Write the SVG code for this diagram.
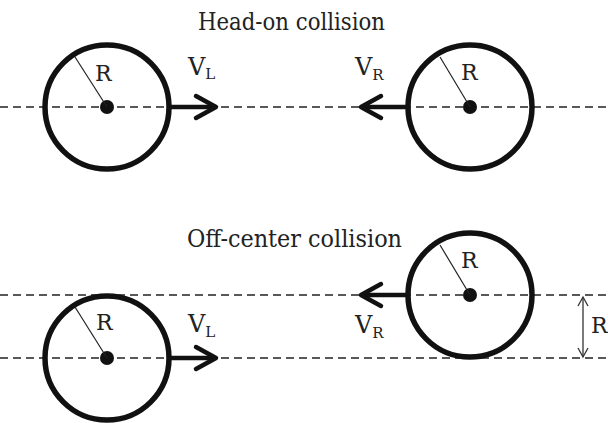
<svg xmlns="http://www.w3.org/2000/svg" width="608" height="423" viewBox="0 0 608 423">
<style>
.bg{fill:#fff}
.ball{fill:none;stroke:#111;stroke-width:5.5}
.dot{fill:#111}
.rad{stroke:#222;stroke-width:1.2;fill:none}
.dash{stroke:#222;stroke-width:1.5;stroke-dasharray:8 5;fill:none}
.arr{stroke:#111;stroke-width:4.5;fill:none;stroke-linecap:round;stroke-linejoin:round}
.dim{stroke:#333;stroke-width:1.3;fill:none}
.t{font-family:'DejaVu Serif','Liberation Serif',serif;fill:#222}
.title{font-size:24px}
.lbl{font-size:22px}
.v{font-size:24px}
.sub{font-size:15px}
</style>
<rect class="bg" x="0" y="0" width="608" height="423"/>
<g id="guides">
<line class="dash" x1="0" y1="107" x2="608" y2="107"/>
<line class="dash" x1="0" y1="295" x2="608" y2="295"/>
<line class="dash" x1="0" y1="358" x2="608" y2="358"/>
</g>
<g id="title-headon"><text class="t title" x="198" y="30" textLength="187" lengthAdjust="spacingAndGlyphs">Head-on collision</text></g>
<g id="title-offcenter"><text class="t title" x="187" y="247" textLength="215" lengthAdjust="spacingAndGlyphs">Off-center collision</text></g>
<g id="ball-top-left">
<circle class="ball" cx="107" cy="107" r="62"/>
<circle class="dot" cx="107" cy="107" r="7"/>
<line class="rad" x1="107" y1="107" x2="75" y2="57"/>
<text class="t lbl" x="95" y="81">R</text>
</g>
<g id="ball-top-right">
<circle class="ball" cx="470" cy="107" r="62"/>
<circle class="dot" cx="470" cy="107" r="7"/>
<line class="rad" x1="470" y1="107" x2="440" y2="57"/>
<text class="t lbl" x="461" y="80">R</text>
</g>
<g id="ball-bottom-right">
<circle class="ball" cx="470" cy="295" r="62"/>
<circle class="dot" cx="470" cy="295" r="7"/>
<line class="rad" x1="470" y1="295" x2="440" y2="245"/>
<text class="t lbl" x="461" y="268">R</text>
</g>
<g id="ball-bottom-left">
<circle class="ball" cx="107" cy="358" r="62"/>
<circle class="dot" cx="107" cy="358" r="7"/>
<line class="rad" x1="107" y1="358" x2="75" y2="307"/>
<text class="t lbl" x="96" y="330">R</text>
</g>
<g id="label-vl-top"><text class="t v" x="188" y="75">V<tspan class="sub" dy="4">L</tspan></text></g>
<g id="label-vr-top"><text class="t v" x="355" y="75">V<tspan class="sub" dy="5">R</tspan></text></g>
<g id="label-vr-bottom"><text class="t v" x="355" y="333">V<tspan class="sub" dy="5">R</tspan></text></g>
<g id="label-vl-bottom"><text class="t v" x="188" y="332">V<tspan class="sub" dy="5">L</tspan></text></g>
<g id="label-dim"><text class="t lbl" x="591" y="333">R</text></g>
<g id="connectors">
<line class="arr" x1="169" y1="107" x2="214" y2="107"/>
<polyline class="arr" points="196,96 216,107 196,118"/>
<line class="arr" x1="408" y1="107" x2="363" y2="107"/>
<polyline class="arr" points="381,96 361,107 381,118"/>
<line class="arr" x1="408" y1="295" x2="363" y2="295"/>
<polyline class="arr" points="381,284 361,295 381,306"/>
<line class="arr" x1="170" y1="358" x2="214" y2="358"/>
<polyline class="arr" points="196,347 216,358 196,369"/>
<line class="dim" x1="583" y1="297" x2="583" y2="357"/>
<polyline class="dim" points="578,306 583,297 588,306"/>
<polyline class="dim" points="578,348 583,357 588,348"/>
</g>
</svg>
